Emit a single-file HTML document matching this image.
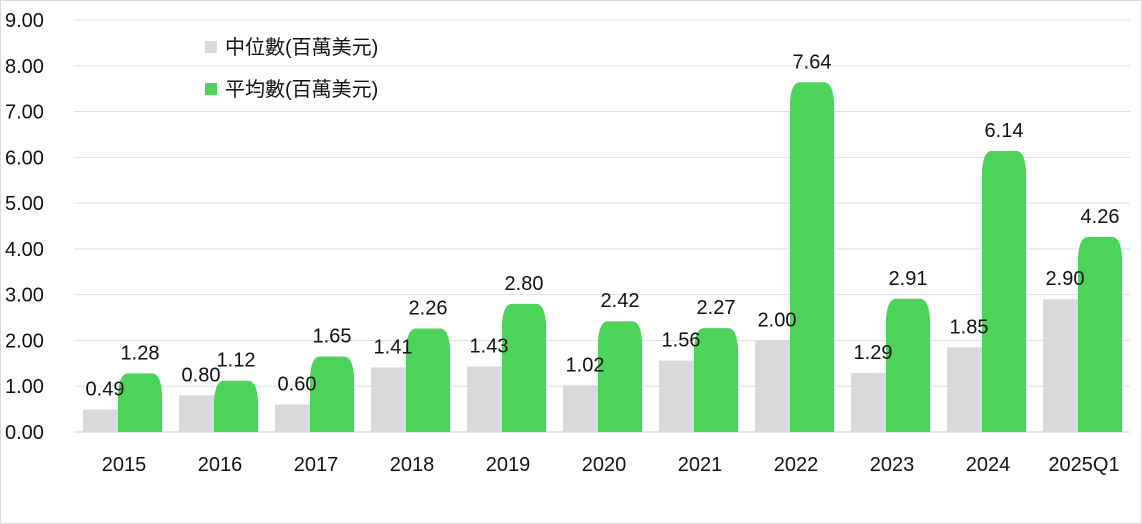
<!DOCTYPE html>
<html><head><meta charset="utf-8"><style>
body{margin:0;background:#fff}
svg{display:block;font-family:"Liberation Sans","Noto Sans CJK TC",sans-serif}
</style></head><body>
<svg width="1142" height="524">
<rect x="0.5" y="0.5" width="1141" height="523" fill="#fff" stroke="#d8d8d8"/>
<g id="grid"></g><g id="bars"></g><g id="labels"></g>
<g>
<rect x="205" y="41" width="12" height="12" fill="#d9d9d9"/>
<text x="225" y="54" font-size="20" fill="#111">中位數(百萬美元)</text>
<rect x="205" y="83" width="12" height="12" fill="#4cd35a"/>
<text x="225" y="96" font-size="20" fill="#111">平均數(百萬美元)</text>
</g>
</svg>
<script>
const categories=["2015","2016","2017","2018","2019","2020","2021","2022","2023","2024","2025Q1"];
const medianValues=[0.49,0.80,0.60,1.41,1.43,1.02,1.56,2.00,1.29,1.85,2.90];
const meanValues=[1.28,1.12,1.65,2.26,2.80,2.42,2.27,7.64,2.91,6.14,4.26];
const yTicks=[0,1,2,3,4,5,6,7,8,9];
const NS="http://www.w3.org/2000/svg";
const y0=432,yTop=20,yMax=9;
const y=v=>y0-(v/yMax)*(y0-yTop);
const xc=i=>124+i*96;
function mk(tag,attrs,parent,text){const e=document.createElementNS(NS,tag);for(const k in attrs)e.setAttribute(k,attrs[k]);if(text!==undefined)e.textContent=text;document.getElementById(parent).appendChild(e);return e;}
yTicks.forEach(t=>{
 if(t>0){const l=mk("line",{x1:74,x2:1130,y1:y(t),y2:y(t),stroke:"#e0e0e0","stroke-width":1},"grid");
 
 }
 const tx=mk("text",{x:5,y:y(t)+7,"font-size":20,fill:"#111"},"labels",t.toFixed(2));
 
 
});
mk("line",{x1:74,x2:1130,y1:y0,y2:y0,stroke:"#d0d0d0"},"grid");
categories.forEach((c,i)=>{
 const cx=xc(i);
 const gm=y(medianValues[i]);
 const g=mk("rect",{x:cx-41,y:gm,width:39,height:y0-gm,fill:"#d9d9d9"},"bars");
 
 
 const top=y(meanValues[i]),l=cx-6,r=cx+38,h=Math.min(20,y0-top);
 const p=mk("path",{d:`M${l},${y0} L${l},${top+h} C${l+1},${top+5} ${l+5},${top} ${l+10},${top} L${r-10},${top} C${r-5},${top} ${r-1},${top+5} ${r},${top+h} L${r},${y0} Z`,fill:"#4cd35a"},"bars");
 
 
 const t1=mk("text",{x:cx-19,y:gm-14,"font-size":20,fill:"#111","text-anchor":"middle"},"labels",medianValues[i].toFixed(2));
 
 
 const t2=mk("text",{x:cx+16,y:top-14,"font-size":20,fill:"#111","text-anchor":"middle"},"labels",meanValues[i].toFixed(2));
 
 
 const xl=mk("text",{x:cx,y:471,"font-size":20,fill:"#111","text-anchor":"middle"},"labels",c);
 
 
});
</script>
</body></html>
